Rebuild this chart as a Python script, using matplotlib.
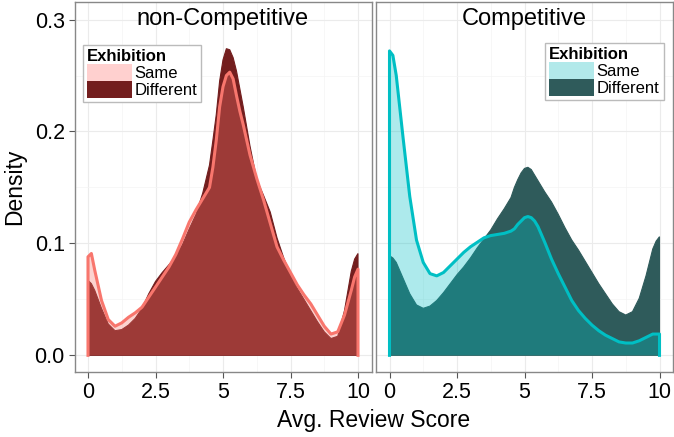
import numpy as np
import matplotlib
matplotlib.use("Agg")
import matplotlib.pyplot as plt
from matplotlib.patches import Patch

plt.rcParams['font.family'] = ['Liberation Sans', 'DejaVu Sans']

# score grid (Avg. Review Score)
score = [0, 0.125, 0.25, 0.5, 0.75, 1.0, 1.25, 1.5, 1.75, 2.0, 2.25, 2.5, 2.75, 3.0,
         3.25, 3.5, 3.75, 4.0, 4.25, 4.5, 4.625, 4.75, 4.875, 5.0, 5.125, 5.25,
         5.375, 5.5, 5.625, 5.75, 6.0, 6.25, 6.5, 6.75, 7.0, 7.25, 7.5, 7.75,
         8.0, 8.25, 8.5, 8.75, 9.0, 9.25, 9.5, 9.75, 9.875, 10.0]

# non-Competitive densities
noncomp_same = [0.088, 0.091, 0.076, 0.049, 0.032, 0.026, 0.029, 0.034, 0.038, 0.043,
                0.052, 0.061, 0.070, 0.079, 0.090, 0.104, 0.119, 0.130, 0.140,
                0.150, 0.168, 0.192, 0.222, 0.240, 0.250, 0.253, 0.247, 0.232,
                0.218, 0.206, 0.179, 0.158, 0.139, 0.118, 0.097, 0.085, 0.074,
                0.063, 0.054, 0.046, 0.036, 0.026, 0.019, 0.021, 0.036, 0.058,
                0.070, 0.077]
noncomp_diff = [0.067, 0.064, 0.058, 0.042, 0.028, 0.022, 0.023, 0.027, 0.033, 0.042,
                0.055, 0.066, 0.074, 0.081, 0.088, 0.099, 0.113, 0.126, 0.145,
                0.170, 0.192, 0.215, 0.245, 0.264, 0.274, 0.273, 0.266, 0.254,
                0.238, 0.222, 0.187, 0.157, 0.143, 0.128, 0.105, 0.087, 0.072,
                0.060, 0.050, 0.040, 0.030, 0.021, 0.015, 0.017, 0.040, 0.075,
                0.086, 0.091]

# Competitive densities
comp_same = [0.272, 0.268, 0.250, 0.195, 0.142, 0.103, 0.083, 0.073, 0.071, 0.074,
             0.080, 0.086, 0.092, 0.097, 0.101, 0.105, 0.107, 0.108, 0.109,
             0.111, 0.113, 0.117, 0.120, 0.123, 0.124, 0.123, 0.120, 0.115,
             0.108, 0.101, 0.086, 0.073, 0.061, 0.049, 0.040, 0.033, 0.027,
             0.022, 0.018, 0.015, 0.012, 0.011, 0.011, 0.013, 0.016, 0.019,
             0.019, 0.019]
comp_diff = [0.089, 0.087, 0.083, 0.069, 0.055, 0.045, 0.042, 0.044, 0.049, 0.056,
             0.064, 0.072, 0.079, 0.087, 0.096, 0.104, 0.112, 0.122, 0.131,
             0.141, 0.150, 0.157, 0.163, 0.167, 0.168, 0.166, 0.161, 0.156,
             0.151, 0.146, 0.137, 0.126, 0.114, 0.103, 0.094, 0.084, 0.074,
             0.064, 0.055, 0.046, 0.039, 0.036, 0.039, 0.051, 0.071, 0.095,
             0.102, 0.106]

panels = [
    ("non-Competitive", noncomp_same, noncomp_diff, "#F8766D", "#FFD0CF", "#731E1E", (0.028, 0.884)),
    ("Competitive", comp_same, comp_diff, "#00BFC4", "#B2E9EA", "#2F5B5B", (0.569, 0.889)),
]

fig = plt.figure(figsize=(6.74, 4.37), dpi=100)
ax_pos = [[74.5 / 674, 65 / 437, 297 / 674, 370 / 437],
          [376 / 674, 65 / 437, 297 / 674, 370 / 437]]

x = np.array(score)
for i, (title, same, diff, line_c, key_c, dark_c, leg_xy) in enumerate(panels):
    ax = fig.add_axes(ax_pos[i])
    xs = np.concatenate([[x[0]], x, [x[-1]]])
    yd = np.concatenate([[0], diff, [0]])
    ys = np.concatenate([[0], same, [0]])
    ax.fill(xs, yd, facecolor=dark_c, edgecolor=dark_c, lw=0.8, zorder=2)
    ax.fill(xs, ys, facecolor=line_c, alpha=0.32, edgecolor='none', zorder=3)
    ax.plot(xs, ys, color=line_c, lw=2.2, zorder=4, solid_joinstyle='round')

    ax.set_xlim(-0.5, 10.5)
    ax.set_ylim(-0.0149, 0.3157)
    ax.set_xticks([0, 2.5, 5, 7.5, 10])
    ax.set_xticklabels(["0", "2.5", "5", "7.5", "10"])
    ax.set_xticks([1.25, 3.75, 6.25, 8.75], minor=True)
    ax.set_yticks([0.0, 0.1, 0.2, 0.3])
    ax.set_yticks([0.05, 0.15, 0.25], minor=True)
    if i == 0:
        ax.set_yticklabels(["0.0", "0.1", "0.2", "0.3"])
        ax.set_ylabel("Density", fontsize=16.5, labelpad=6)
    else:
        ax.tick_params(axis='y', which='both', left=False, labelleft=False)
    ax.grid(True, which='major', color='#EBEBEB', lw=0.8, zorder=0)
    ax.grid(True, which='minor', color='#F4F4F4', lw=0.5, zorder=0)
    ax.set_axisbelow(True)
    ax.tick_params(which='major', labelsize=15.5, color='#555555', length=4,
                   width=0.8, labelcolor='black', pad=3)
    ax.tick_params(which='minor', length=0)
    for s in ax.spines.values():
        s.set_color('#888888')
        s.set_linewidth(1.0)

    ax.text(0.5, 0.954, title, transform=ax.transAxes, ha='center', va='center',
            fontsize=17, zorder=6)

    handles = [Patch(facecolor=key_c, edgecolor='none'),
               Patch(facecolor=dark_c, edgecolor='none')]
    leg = ax.legend(handles, ["Same", "Different"], title="Exhibition",
                    loc='upper left', bbox_to_anchor=leg_xy, fontsize=12,
                    title_fontsize=12, handlelength=2.7, handleheight=1.15,
                    labelspacing=0.0, handletextpad=0.15, borderpad=0.25,
                    borderaxespad=0, fancybox=False, framealpha=1,
                    edgecolor='#BBBBBB')
    leg.get_title().set_fontweight('bold')
    leg._legend_box.align = 'left'
    leg.set_zorder(7)

fig.text((74.5 + 673) / 2 / 674, 1 - 421 / 437, "Avg. Review Score",
         ha='center', va='center', fontsize=16.5)

fig.savefig("out.png", dpi=100)
